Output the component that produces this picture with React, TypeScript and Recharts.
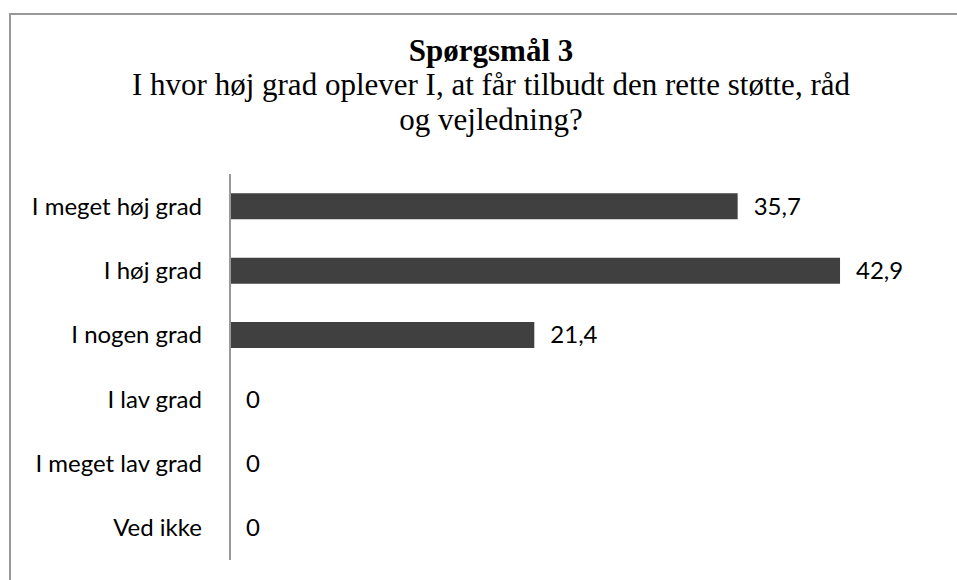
import { Bar, BarChart, LabelList, XAxis, YAxis } from "recharts";

const categories = [
  "I meget høj grad",
  "I høj grad",
  "I nogen grad",
  "I lav grad",
  "I meget lav grad",
  "Ved ikke",
];
const values = [35.7, 42.9, 21.4, 0, 0, 0];

const title = "Spørgsmål 3";
const subtitleLines = [
  "I hvor høj grad oplever I, at får tilbudt den rette støtte, råd",
  "og vejledning?",
];

const data = categories.map((name, i) => ({ name, value: values[i] }));

const serif = "'Liberation Serif', 'Times New Roman', serif";
const sans = "Lato, 'Open Sans', sans-serif";

const fmt = (v: any) => String(v).replace(".", ",");

const textLine = (baseline: number, bold: boolean) => ({
  position: "absolute" as const,
  left: 491,
  top: baseline - 26,
  transform: "translateX(-50%)",
  whiteSpace: "nowrap" as const,
  fontFamily: serif,
  fontWeight: bold ? "bold" : "normal",
  fontSize: 31,
  lineHeight: "31px",
  color: "#000",
});

export default function App() {
  return (
    <div
      style={{
        position: "absolute",
        left: 0,
        top: 0,
        width: 957,
        height: 580,
        background: "#fff",
        overflow: "hidden",
      }}
    >
      <div
        style={{
          position: "absolute",
          left: 9,
          top: 13,
          width: 1000,
          height: 1000,
          borderTop: "2px solid #999",
          borderLeft: "2px solid #999",
        }}
      />
      <div style={textLine(61, true)}>{title}</div>
      <div style={textLine(95, false)}>{subtitleLines[0]}</div>
      <div style={textLine(130, false)}>{subtitleLines[1]}</div>
      <div style={{ position: "absolute", left: 0, top: 0 }}>
        <BarChart
          width={957}
          height={580}
          data={data}
          layout="vertical"
          margin={{ top: 174, right: 16, bottom: 20, left: 0 }}
          barCategoryGap="30%"
        >
          <XAxis type="number" domain={[0, 50]} hide />
          <YAxis
            type="category"
            dataKey="name"
            width={230}
            axisLine={{ stroke: "#999", strokeWidth: 2 }}
            tickLine={false}
            tickSize={0}
            tickMargin={28}
            interval={0}
            tick={{ fill: "#000", fontSize: 24, fontFamily: sans }}
          />
          <Bar
            dataKey="value"
            fill="#404040"
            minPointSize={0.01}
            isAnimationActive={false}
          >
            <LabelList
              dataKey="value"
              position="right"
              offset={16}
              formatter={fmt}
              style={{ fill: "#000", fontSize: 24, fontFamily: sans }}
            />
          </Bar>
        </BarChart>
      </div>
    </div>
  );
}
